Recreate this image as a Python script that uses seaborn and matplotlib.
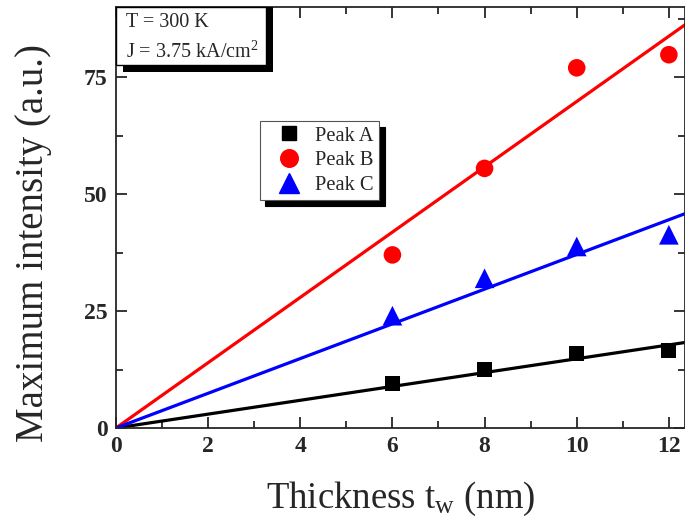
import numpy as np
import pandas as pd
import matplotlib
matplotlib.use("Agg")
import matplotlib.pyplot as plt
from matplotlib.lines import Line2D
from matplotlib.patches import Rectangle
from matplotlib.ticker import MultipleLocator
import seaborn as sns

# measured peak intensities
thickness = [6, 8, 10, 12]
peak_a = [9.5, 12.5, 16.0, 16.5]
peak_b = [37.0, 55.5, 77.0, 79.8]
peak_c = [24.0, 32.0, 38.8, 41.3]
peak_names = ["Peak A", "Peak B", "Peak C"]

# linear fits through the origin (slope per nm)
fit_slopes = [1.48, 6.98, 3.71]
fit_x = [0, 12.4]

colors = {"Peak A": "black", "Peak B": "red", "Peak C": "blue"}
markers = {"Peak A": "s", "Peak B": "o", "Peak C": "^"}
msize = {"Peak A": 115, "Peak B": 160, "Peak C": 200}

df = pd.DataFrame({
    "t": thickness * 3,
    "I": peak_a + peak_b + peak_c,
    "peak": [p for p in peak_names for _ in thickness],
})
fit = pd.DataFrame({
    "t": fit_x * 3,
    "I": [s * x for s in fit_slopes for x in fit_x],
    "peak": [p for p in peak_names for _ in fit_x],
})

sns.set_style("ticks")
plt.rcParams["font.family"] = ["Liberation Serif", "DejaVu Serif"]
plt.rcParams["mathtext.fontset"] = "custom"
plt.rcParams["mathtext.rm"] = "Liberation Serif"
plt.rcParams["mathtext.it"] = "Liberation Serif:italic"
plt.rcParams["mathtext.bf"] = "Liberation Serif:bold"

fig = plt.figure(figsize=(6.85, 5.27), dpi=100)
ax = fig.add_axes([0.1693, 0.1879, 0.8307, 0.7988])

sns.lineplot(data=fit, x="t", y="I", hue="peak", palette=colors, lw=2.3,
             legend=False, ax=ax)
for p in peak_names:
    sub = df[df["peak"] == p]
    sns.scatterplot(data=sub, x="t", y="I", color=colors[p], marker=markers[p],
                    s=msize[p], edgecolor="none", legend=False, ax=ax, zorder=3)

ax.set_xlim(0, 12.35)
ax.set_ylim(0, 90)
ax.xaxis.set_major_locator(MultipleLocator(2))
ax.xaxis.set_minor_locator(MultipleLocator(1))
ax.yaxis.set_major_locator(MultipleLocator(25))
ax.yaxis.set_minor_locator(MultipleLocator(12.5))
ax.tick_params(which="both", direction="in", top=True, right=True, width=1.3,
               labelsize=17, pad=6)
ax.tick_params(which="major", length=8)
ax.tick_params(which="minor", length=5)
for lab in ax.get_xticklabels() + ax.get_yticklabels():
    lab.set_fontweight("bold")
for sp in ax.spines.values():
    sp.set_linewidth(1.3)

ax.set_xlabel("Thickness t$_{\\mathrm{w}}$ (nm)", fontsize=26.5, labelpad=16)
ax.set_ylabel("Maximum intensity (a.u.)", fontsize=28)
ax.yaxis.set_label_coords(-0.112, 0.44)

# info box with black drop shadow
ax.add_patch(Rectangle((0.012, 0.845), 0.264, 0.155, transform=ax.transAxes,
                       facecolor="black", edgecolor="none", zorder=4,
                       clip_on=False))
ax.add_patch(Rectangle((0.0, 0.862), 0.264, 0.138, transform=ax.transAxes,
                       facecolor="white", edgecolor="black", lw=1.0, zorder=5,
                       clip_on=False))
ax.text(0.018, 0.963, "T = 300 K", transform=ax.transAxes, fontsize=14.5,
        va="center", zorder=6)
ax.text(0.018, 0.893, "J = 3.75 kA/cm$^{\\mathrm{2}}$", transform=ax.transAxes,
        fontsize=14.5, va="center", zorder=6)

handles = [Line2D([], [], ls="none", marker=markers[p], color=colors[p],
                  markersize=np.sqrt(msize[p]), label=p) for p in peak_names]
leg = ax.legend(handles=handles, loc="upper left",
                bbox_to_anchor=(0.253, 0.729), fontsize=14.8, frameon=True,
                fancybox=False, borderpad=0.25, handlelength=2.35,
                handletextpad=0.1, labelspacing=0.26, borderaxespad=0,
                shadow={"ox": 4, "oy": -4, "facecolor": "black",
                        "edgecolor": "black", "alpha": 1})
leg.get_frame().set_edgecolor("#555555")
leg.get_frame().set_linewidth(0.8)

fig.savefig("out.png", dpi=100)
